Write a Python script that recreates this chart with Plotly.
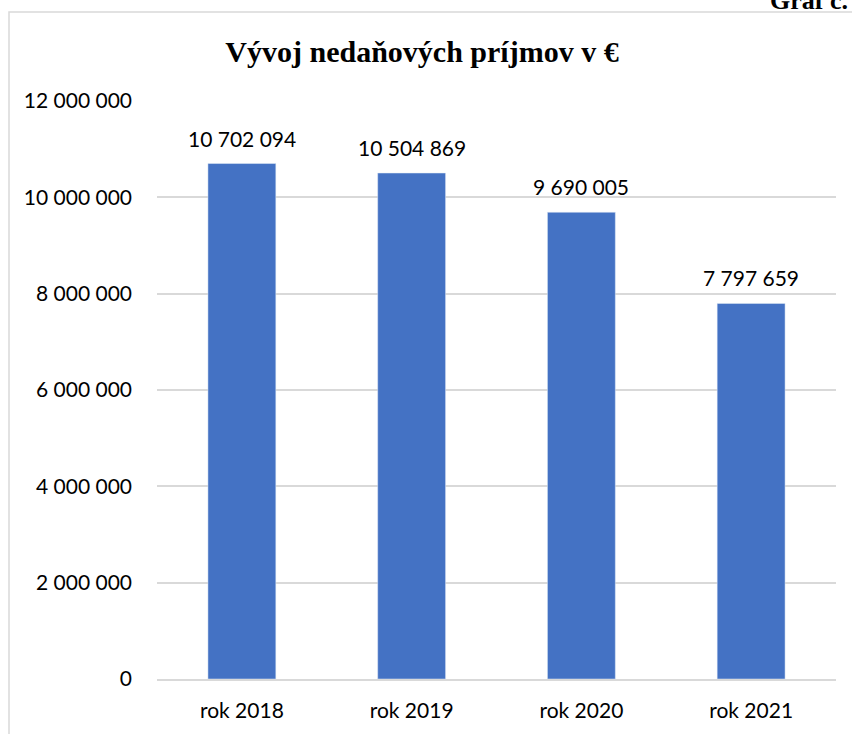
import plotly.graph_objects as go

categories = ["rok 2018", "rok 2019", "rok 2020", "rok 2021"]
values = [10702094, 10504869, 9690005, 7797659]
tick_vals = [0, 2000000, 4000000, 6000000, 8000000, 10000000, 12000000]

W, H = 852, 734
L, R, T, B = 157, 16, 101, 55
pw, ph = W - L - R, H - T - B

def fmt(v):
    return f"{v:,}".replace(",", " ")

fig = go.Figure()
fig.add_trace(go.Bar(
    x=categories, y=values, marker_color="#4472C4", width=0.4,
    hoverinfo="x+y",
))

for c, v in zip(categories, values):
    fig.add_annotation(x=c, y=v, xref="x", yref="y", text=fmt(v), showarrow=False,
                       yanchor="bottom", yshift=11,
                       font=dict(family="Lato", size=21, color="#000000"))

# border of chart area
fig.add_shape(type="rect", xref="paper", yref="paper",
              x0=(9 - L) / pw, x1=(W + 20 - L) / pw,
              y0=-(B + 20) / ph, y1=1 + (T - 12) / ph,
              line=dict(color="#d9d9d9", width=1.5), fillcolor="rgba(0,0,0,0)", layer="below")

fig.add_annotation(xref="paper", yref="paper", x=(850 - L) / pw, y=1 + (T - 17) / ph,
                   xanchor="right", yanchor="bottom", showarrow=False, text="<b>Graf č.</b>",
                   font=dict(family="Liberation Serif", size=26, color="#000000"))

fig.update_layout(
    width=W, height=H,
    margin=dict(l=L, r=R, t=T, b=B, pad=0, autoexpand=False),
    paper_bgcolor="white", plot_bgcolor="white",
    separators=", ",
    showlegend=False,
    title=dict(text="<b>Vývoj nedaňových príjmov v €</b>", x=422 / W, xanchor="center",
               y=1 - 51 / H, yanchor="middle",
               font=dict(family="Liberation Serif", size=30, color="#000000")),
    font=dict(family="Lato", size=21, color="#000000"),
    xaxis=dict(showgrid=False, showline=True, linecolor="#d9d9d9", linewidth=1.5,
               automargin=False,
               ticks="", ticklabelstandoff=12, tickfont=dict(size=21)),
    yaxis=dict(range=[0, 12000000], tickvals=tick_vals, tickformat=",d",
               automargin=False,
               showgrid=True, gridcolor="#d9d9d9", gridwidth=1.5, zeroline=False,
               showline=False, ticks="", ticklabelstandoff=24, tickfont=dict(size=21)),
)

fig.write_html("out.html", config={"displayModeBar": False},
               post_script="document.body.style.margin='0';")
